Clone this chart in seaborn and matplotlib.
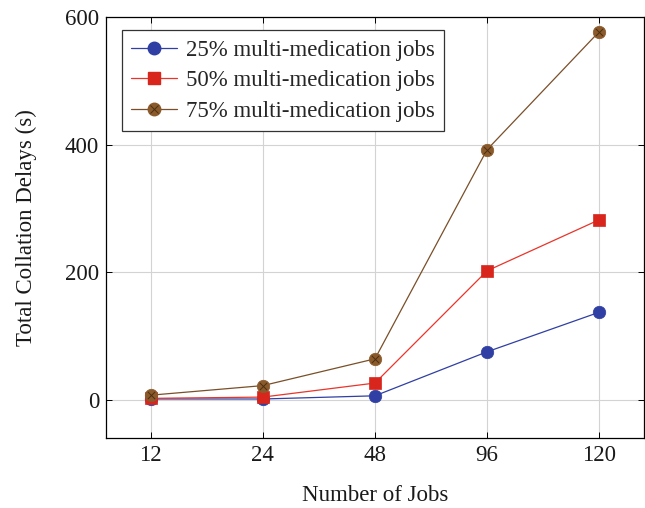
import numpy as np
import pandas as pd
import matplotlib
matplotlib.use("Agg")
import matplotlib.pyplot as plt
from matplotlib.lines import Line2D
import seaborn as sns

# Job counts (categorical x axis) and total collation delays per scenario
jobs = ["12", "24", "48", "96", "120"]
delay_25 = [1, 1, 6, 75, 137]
delay_50 = [2, 4, 26, 202, 282]
delay_75 = [7, 22, 64, 392, 577]
series_names = ["25% multi-medication jobs",
                "50% multi-medication jobs",
                "75% multi-medication jobs"]

sns.set_theme(style="whitegrid")
plt.rcParams["font.family"] = ["Liberation Serif", "DejaVu Serif"]

df = pd.DataFrame({
    "jobs": jobs * 3,
    "pos": list(np.arange(len(jobs))) * 3,
    "delay": delay_25 + delay_50 + delay_75,
    "series": [series_names[0]] * len(jobs) + [series_names[1]] * len(jobs)
              + [series_names[2]] * len(jobs),
})

colors = ["#2f3fa3", "#d8261c", "#8b5a2b"]
line_colors = ["#2f3fa3", "#e8352a", "#7a4f28"]
markers = ["o", "s", "o"]
msizes = [9, 8.5, 9]
FS = 16.5

fig = plt.figure(figsize=(6.45, 5.08), dpi=100)
ax = fig.add_axes([0.1643, 0.138, 0.8341, 0.8285])

handles = []
for name, mcol, lcol, mk, ms in zip(series_names, colors, line_colors, markers, msizes):
    sub = df[df["series"] == name]
    sns.lineplot(data=sub, x="pos", y="delay", ax=ax, color=lcol,
                 linewidth=0.9, marker=mk, markersize=ms,
                 markerfacecolor=mcol, markeredgecolor=mcol,
                 markeredgewidth=0.5, legend=False, zorder=3)
    h = Line2D([], [], color=lcol, linewidth=0.9, marker=mk, markersize=ms,
               markerfacecolor=mcol, markeredgecolor=mcol)
    handles.append(h)

# Cross inside the brown circles (otimes-style marker)
sub75 = df[df["series"] == series_names[2]]
sns.scatterplot(data=sub75, x="pos", y="delay", ax=ax, marker="x",
                s=28, color="#4a2e12", linewidth=0.7, legend=False, zorder=4)
cross = Line2D([], [], linestyle="none", marker="x", markersize=5.3,
               color="#4a2e12", markeredgewidth=0.7)
handles[2] = (handles[2], cross)

ax.set_xlim(-0.4, len(jobs) - 0.6)
ax.set_ylim(-60, 600)
ax.set_xticks(np.arange(len(jobs)))
ax.set_xticklabels(jobs)
ax.set_yticks([0, 200, 400, 600])

ax.grid(True, color="#d3d3d3", linewidth=0.8)
ax.set_axisbelow(True)
for sp in ax.spines.values():
    sp.set_color("black")
    sp.set_linewidth(0.9)
ax.tick_params(axis="both", direction="in", length=4, width=0.7,
               colors="black", labelsize=FS, top=True, right=True,
               left=True, bottom=True, pad=5)
ax.tick_params(axis="both", labelcolor="#1a1a1a")

ax.set_xlabel("Number of Jobs", fontsize=FS, labelpad=14, color="#1a1a1a")
ax.set_ylabel("Total Collation Delays (s)", fontsize=FS, labelpad=20,
              color="#1a1a1a")

leg = ax.legend(handles, series_names, loc="upper left",
                bbox_to_anchor=(0.029, 0.968), fontsize=FS, frameon=True,
                fancybox=False, edgecolor="#333333", framealpha=1,
                borderpad=0.4, labelspacing=0.42, handlelength=2.0,
                handletextpad=0.4, borderaxespad=0)
leg.get_frame().set_linewidth(0.9)

fig.savefig("out.png", dpi=100)
